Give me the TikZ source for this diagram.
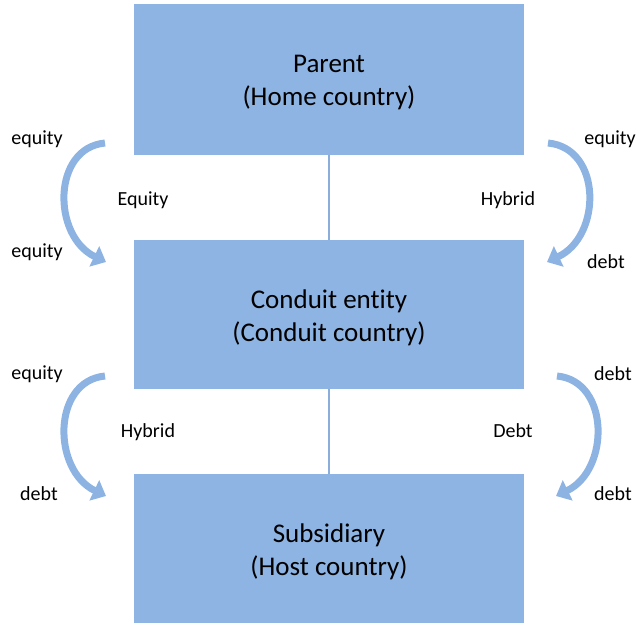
\documentclass[tikz,border=0pt]{standalone}
\usepackage{fontspec}
\setmainfont[Ligatures={NoCommon}]{Carlito}
\usetikzlibrary{arrows.meta}
\definecolor{boxblue}{HTML}{8EB4E3}
\definecolor{linkblue}{HTML}{8AAEDC}
\definecolor{arrblue}{HTML}{8DB3E2}
\tikzset{
  entity/.style={fill=boxblue, draw=none, minimum width=390pt, minimum height=151pt, inner sep=0pt},
  boxtext/.style={align=center, font=\fontsize{27}{33}\selectfont, inner sep=0pt, yshift=-3pt},
  lbl/.style={font=\fontsize{20}{24}\selectfont, inner sep=0pt},
  link/.style={draw=linkblue, line width=2pt},
  flow/.style={draw=arrblue, line width=7pt, -{Triangle[width=22pt,length=13pt]}}
}
\begin{document}
\begin{tikzpicture}[x=1pt,y=-1pt]
\useasboundingbox (0,0) rectangle (638,625);
\node[entity, label={[boxtext]center:Parent\\(Home country)}] (parent) at (329,79.5) {};
\node[entity, minimum height=149pt, label={[boxtext]center:Conduit entity\\(Conduit country)}] (conduit) at (329,314.5) {};
\node[entity, minimum height=149pt, label={[boxtext]center:Subsidiary\\(Host country)}] (sub) at (329,548.5) {};
\draw[link] (parent.south) -- (conduit.north);
\draw[link] (conduit.south) -- (sub.north);
% curved arrows
\coordinate (a1s) at (105,143); \coordinate (a1e) at (106,262);
\coordinate (a2s) at (548,143); \coordinate (a2e) at (547,262);
\coordinate (a3s) at (105,376); \coordinate (a3e) at (106,496);
\coordinate (a4s) at (557,376); \coordinate (a4e) at (556,496);
\draw[flow] (a1s) .. controls (52,148) and (52,236) .. (a1e);
\draw[flow] (a2s) .. controls (602,148) and (602,236) .. (a2e);
\draw[flow] (a3s) .. controls (52,381) and (52,470) .. (a3e);
\draw[flow] (a4s) .. controls (610,381) and (610,470) .. (a4e);
% labels
\node[lbl] (l1) at (37,139) {equity};
\node[lbl] (l2) at (37,252) {equity};
\node[lbl] (l3) at (143,200) {Equity};
\node[lbl] (l4) at (508,200) {Hybrid};
\node[lbl] (l5) at (610,139) {equity};
\node[lbl] (l6) at (606,262) {debt};
\node[lbl] (l7) at (37,374) {equity};
\node[lbl] (l8) at (39,494) {debt};
\node[lbl] (l9) at (148,432) {Hybrid};
\node[lbl] (l10) at (513,431) {Debt};
\node[lbl] (l11) at (613,374) {debt};
\node[lbl] (l12) at (613,494) {debt};
\end{tikzpicture}
\end{document}
